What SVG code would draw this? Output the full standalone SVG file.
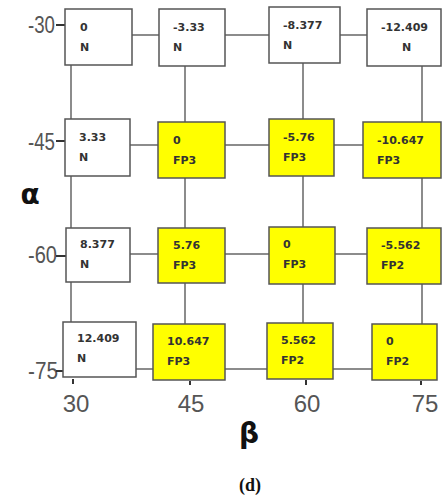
<svg xmlns="http://www.w3.org/2000/svg" width="443" height="497" viewBox="0 0 443 497">
<style>
.bw{fill:#fff;stroke:#555;stroke-width:1.5}
.by{fill:#ffff00;stroke:#555;stroke-width:1.5}
.t{font-family:"DejaVu Sans",sans-serif;font-weight:bold;font-size:11px;fill:#333}
.c{stroke:#666;stroke-width:1.5;fill:none}
.ax{font-family:"Liberation Sans",Arial,sans-serif;font-size:24px;fill:#555}
.tk{stroke:#333;stroke-width:2}
</style>
<rect width="443" height="497" fill="#fff"/>
<g id="axes">
<text class="ax" x="28" y="33" textLength="27" lengthAdjust="spacingAndGlyphs">-30</text>
<text class="ax" x="28" y="150" textLength="27" lengthAdjust="spacingAndGlyphs">-45</text>
<text class="ax" x="28" y="263" textLength="29" lengthAdjust="spacingAndGlyphs">-60</text>
<text class="ax" x="28" y="379" textLength="30" lengthAdjust="spacingAndGlyphs">-75</text>
<line class="tk" x1="56" y1="25" x2="65" y2="25"/>
<line class="tk" x1="56" y1="141" x2="65" y2="141"/>
<line class="tk" x1="56" y1="256" x2="66" y2="256"/>
<line class="tk" x1="56" y1="371" x2="63" y2="371"/>
<text class="ax" x="76" y="412" text-anchor="middle">30</text>
<text class="ax" x="191" y="412" text-anchor="middle">45</text>
<text class="ax" x="307" y="412" text-anchor="middle">60</text>
<text class="ax" x="425" y="412" text-anchor="middle">75</text>
<text x="30" y="204" text-anchor="middle" font-family="'DejaVu Sans',sans-serif" font-weight="bold" font-size="28" fill="#111">α</text>
<text x="249" y="443" text-anchor="middle" font-family="'DejaVu Sans',sans-serif" font-weight="bold" font-size="28" fill="#111">β</text>
<text x="250" y="491" text-anchor="middle" font-family="'Liberation Serif',serif" font-weight="bold" font-size="18" fill="#111">(d)</text>
</g>
<g id="connectors">
<line class="c" x1="132" y1="35" x2="159" y2="35"/>
<line class="c" x1="225" y1="35" x2="269" y2="35"/>
<line class="c" x1="340" y1="35" x2="367" y2="35"/>
<line class="c" x1="130" y1="145" x2="158" y2="145"/>
<line class="c" x1="225" y1="145" x2="269" y2="145"/>
<line class="c" x1="334" y1="145" x2="363" y2="145"/>
<line class="c" x1="130" y1="254" x2="158" y2="254"/>
<line class="c" x1="225" y1="254" x2="269" y2="254"/>
<line class="c" x1="335" y1="254" x2="367" y2="254"/>
<line class="c" x1="136" y1="369" x2="153" y2="369"/>
<line class="c" x1="225" y1="369" x2="267" y2="369"/>
<line class="c" x1="333" y1="369" x2="372" y2="369"/>
<line class="c" x1="71" y1="65" x2="71" y2="119"/>
<line class="c" x1="71" y1="176" x2="71" y2="228"/>
<line class="c" x1="71" y1="282" x2="71" y2="322"/>
<line class="c" x1="185" y1="66" x2="185" y2="122"/>
<line class="c" x1="185" y1="178" x2="185" y2="228"/>
<line class="c" x1="185" y1="283" x2="185" y2="324"/>
<line class="c" x1="303" y1="63" x2="303" y2="119"/>
<line class="c" x1="303" y1="176" x2="303" y2="227"/>
<line class="c" x1="303" y1="284" x2="303" y2="323"/>
<line class="c" x1="422" y1="66" x2="422" y2="122"/>
<line class="c" x1="422" y1="178" x2="422" y2="228"/>
<line class="c" x1="422" y1="284" x2="422" y2="324"/>
</g>
<g id="n-a1"><rect class="bw" x="65" y="9" width="67" height="56"/><text class="t" x="80" y="31">0</text><text class="t" x="80" y="51">N</text></g>
<g id="n-b1"><rect class="bw" x="159" y="9" width="66" height="57"/><text class="t" x="173" y="31">-3.33</text><text class="t" x="173" y="51">N</text></g>
<g id="n-c1"><rect class="bw" x="269" y="7" width="71" height="56"/><text class="t" x="283" y="29">-8.377</text><text class="t" x="283" y="49">N</text></g>
<g id="n-d1"><rect class="bw" x="367" y="9" width="74" height="57"/><text class="t" x="381" y="31">-12.409</text><text class="t" x="402" y="51">N</text></g>
<g id="n-a2"><rect class="bw" x="65" y="119" width="65" height="57"/><text class="t" x="79" y="141">3.33</text><text class="t" x="79" y="161">N</text></g>
<g id="n-b2"><rect class="by" x="158" y="122" width="67" height="56"/><text class="t" x="173" y="144">0</text><text class="t" x="173" y="164">FP3</text></g>
<g id="n-c2"><rect class="by" x="269" y="119" width="65" height="57"/><text class="t" x="283" y="141">-5.76</text><text class="t" x="283" y="161">FP3</text></g>
<g id="n-d2"><rect class="by" x="363" y="122" width="78" height="56"/><text class="t" x="377" y="144">-10.647</text><text class="t" x="377" y="164">FP3</text></g>
<g id="n-a3"><rect class="bw" x="66" y="228" width="64" height="54"/><text class="t" x="80" y="248">8.377</text><text class="t" x="80" y="268">N</text></g>
<g id="n-b3"><rect class="by" x="158" y="228" width="67" height="55"/><text class="t" x="173" y="249">5.76</text><text class="t" x="173" y="269">FP3</text></g>
<g id="n-c3"><rect class="by" x="269" y="227" width="66" height="57"/><text class="t" x="283" y="248">0</text><text class="t" x="283" y="268">FP3</text></g>
<g id="n-d3"><rect class="by" x="367" y="228" width="74" height="56"/><text class="t" x="381" y="249">-5.562</text><text class="t" x="381" y="269">FP2</text></g>
<g id="n-a4"><rect class="bw" x="63" y="322" width="73" height="55"/><text class="t" x="77" y="342">12.409</text><text class="t" x="77" y="362">N</text></g>
<g id="n-b4"><rect class="by" x="153" y="324" width="72" height="56"/><text class="t" x="167" y="345">10.647</text><text class="t" x="167" y="365">FP3</text></g>
<g id="n-c4"><rect class="by" x="267" y="323" width="66" height="56"/><text class="t" x="281" y="344">5.562</text><text class="t" x="281" y="364">FP2</text></g>
<g id="n-d4"><rect class="by" x="372" y="324" width="65" height="56"/><text class="t" x="386" y="345">0</text><text class="t" x="386" y="365">FP2</text></g>
<g id="xticks">
<line class="tk" x1="73" y1="379" x2="73" y2="384"/>
<line class="tk" x1="190" y1="381" x2="190" y2="385"/>
<line class="tk" x1="306" y1="380" x2="306" y2="385"/>
<line class="tk" x1="421" y1="381" x2="421" y2="385"/>
</g>
</svg>
